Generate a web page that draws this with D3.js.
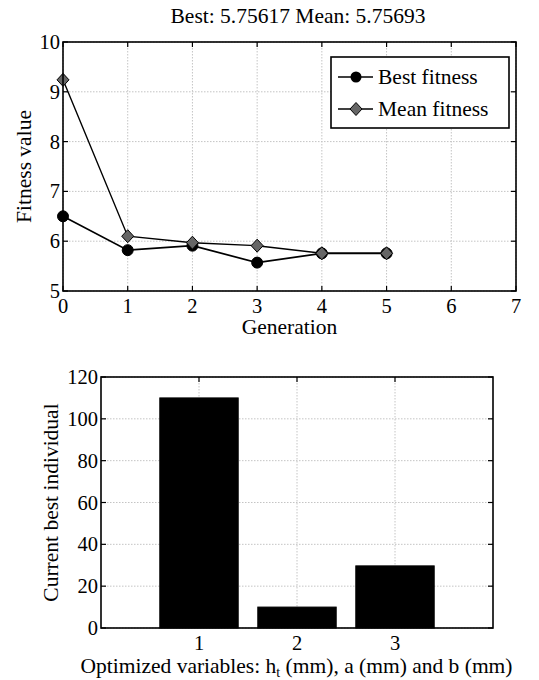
<!DOCTYPE html>
<html><head><meta charset="utf-8">
<script src="https://cdn.jsdelivr.net/npm/d3@7"></script>
<style>
html,body{margin:0;padding:0;background:#fff;}
text{font-family:"Liberation Serif","Times New Roman",serif;fill:#000;}
</style></head>
<body>
<svg id="c" width="539" height="680"></svg>
<script>
const generations = [0, 1, 2, 3, 4, 5];
const bestFitness = [6.50, 5.82, 5.91, 5.57, 5.756, 5.756];
const meanFitness = [9.24, 6.10, 5.97, 5.91, 5.757, 5.757];
const genTicks = [0, 1, 2, 3, 4, 5, 6, 7];
const fitTicks = [5, 6, 7, 8, 9, 10];
const titleText = "Best: 5.75617 Mean: 5.75693";

const variables = [1, 2, 3];
const bestIndividual = [110, 10, 29.7];
const indTicks = [0, 20, 40, 60, 80, 100, 120];

const svg = d3.select("#c");
const FS = 20.5;
const LFS = 21.5;

function frame(g, x, y, xt, yt, W, H) {
  g.selectAll(".gx").data(xt).enter().append("line")
    .attr("x1", d => x(d)).attr("x2", d => x(d)).attr("y1", 0).attr("y2", H)
    .attr("stroke", "#c4c4c4").attr("stroke-width", 1).attr("stroke-dasharray", "1.5,1.5");
  g.selectAll(".gy").data(yt).enter().append("line")
    .attr("y1", d => y(d)).attr("y2", d => y(d)).attr("x1", 0).attr("x2", W)
    .attr("stroke", "#c4c4c4").attr("stroke-width", 1).attr("stroke-dasharray", "1.5,1.5");
}
function border(g, x, y, xt, yt, W, H) {
  g.append("rect").attr("x", 0).attr("y", 0).attr("width", W).attr("height", H)
    .attr("fill", "none").attr("stroke", "#000").attr("stroke-width", 1.6);
  const tl = 5;
  xt.forEach(d => {
    g.append("line").attr("x1", x(d)).attr("x2", x(d)).attr("y1", H).attr("y2", H - tl).attr("stroke", "#000").attr("stroke-width", 1.2);
    g.append("line").attr("x1", x(d)).attr("x2", x(d)).attr("y1", 0).attr("y2", tl).attr("stroke", "#000").attr("stroke-width", 1.2);
  });
  yt.forEach(d => {
    g.append("line").attr("y1", y(d)).attr("y2", y(d)).attr("x1", 0).attr("x2", tl).attr("stroke", "#000").attr("stroke-width", 1.2);
    g.append("line").attr("y1", y(d)).attr("y2", y(d)).attr("x1", W).attr("x2", W - tl).attr("stroke", "#000").attr("stroke-width", 1.2);
  });
  g.selectAll(".xl").data(xt).enter().append("text")
    .attr("x", d => x(d)).attr("y", H + 22).attr("text-anchor", "middle")
    .attr("font-size", FS).text(d => d);
  g.selectAll(".yl").data(yt).enter().append("text")
    .attr("x", -3).attr("y", d => y(d) + 7).attr("text-anchor", "end")
    .attr("font-size", FS).text(d => d);
}
const diamond = "M0,-6.5L6,0L0,6.5L-6,0Z";

// ---- Top chart ----
{
  const L = 63, T = 42, R = 516, B = 291;
  const W = R - L, H = B - T;
  const g = svg.append("g").attr("transform", `translate(${L},${T})`);
  const x = d3.scaleLinear().domain([0, 7]).range([0, W]);
  const y = d3.scaleLinear().domain([5, 10]).range([H, 0]);
  g.append("rect").attr("width", W).attr("height", H).attr("fill", "#fff");
  frame(g, x, y, genTicks, fitTicks, W, H);

  const line = d3.line().x(d => x(d[0])).y(d => y(d[1]));
  const bestPts = generations.map((gen, i) => [gen, bestFitness[i]]);
  const meanPts = generations.map((gen, i) => [gen, meanFitness[i]]);
  g.append("path").attr("d", line(bestPts)).attr("fill", "none").attr("stroke", "#000").attr("stroke-width", 1.7);
  g.append("path").attr("d", line(meanPts)).attr("fill", "none").attr("stroke", "#000").attr("stroke-width", 1.4);
  g.selectAll(".bp").data(bestPts).enter().append("circle")
    .attr("cx", d => x(d[0])).attr("cy", d => y(d[1])).attr("r", 5.5)
    .attr("fill", "#000").attr("stroke", "#000");
  g.selectAll(".mp").data(meanPts).enter().append("path")
    .attr("d", diamond).attr("transform", d => `translate(${x(d[0])},${y(d[1])})`)
    .attr("fill", "#666").attr("stroke", "#000").attr("stroke-width", 1);

  border(g, x, y, genTicks, fitTicks, W, H);

  const lg = g.append("g").attr("transform", `translate(${331 - L},${57 - T})`);
  lg.append("rect").attr("width", 178).attr("height", 71).attr("fill", "#fff").attr("stroke", "#000").attr("stroke-width", 1.6);
  lg.append("line").attr("x1", 7).attr("x2", 42).attr("y1", 20).attr("y2", 20).attr("stroke", "#000").attr("stroke-width", 1.7);
  lg.append("circle").attr("cx", 25).attr("cy", 20).attr("r", 5.5).attr("fill", "#000");
  lg.append("text").attr("x", 47).attr("y", 27).attr("font-size", LFS).text("Best fitness");
  lg.append("line").attr("x1", 7).attr("x2", 42).attr("y1", 52).attr("y2", 52).attr("stroke", "#000").attr("stroke-width", 1.4);
  lg.append("path").attr("d", diamond).attr("transform", `translate(25,52)`)
    .attr("fill", "#666").attr("stroke", "#000").attr("stroke-width", 1);
  lg.append("text").attr("x", 47).attr("y", 59).attr("font-size", LFS).text("Mean fitness");

  svg.append("text").attr("x", 298).attr("y", 23).attr("text-anchor", "middle")
    .attr("font-size", LFS).text(titleText);
  svg.append("text").attr("x", (L + R) / 2).attr("y", 334).attr("text-anchor", "middle")
    .attr("font-size", LFS).text("Generation");
  svg.append("text").attr("transform", `translate(31,${(T + B) / 2}) rotate(-90)`)
    .attr("text-anchor", "middle").attr("font-size", LFS).text("Fitness value");
}

// ---- Bottom chart ----
{
  const L = 101, T = 377, R = 493, B = 628;
  const W = R - L, H = B - T;
  const g = svg.append("g").attr("transform", `translate(${L},${T})`);
  const x = d3.scaleLinear().domain([0, 4]).range([0, W]);
  const y = d3.scaleLinear().domain([0, 120]).range([H, 0]);
  g.append("rect").attr("width", W).attr("height", H).attr("fill", "#fff");
  frame(g, x, y, variables, indTicks, W, H);
  const bw = 0.8;
  g.selectAll(".bar").data(variables).enter().append("rect")
    .attr("x", d => x(d - bw / 2)).attr("width", x(bw) - x(0))
    .attr("y", (d, i) => y(bestIndividual[i])).attr("height", (d, i) => y(0) - y(bestIndividual[i]))
    .attr("fill", "#000").attr("stroke", "#000").attr("stroke-width", 1);
  border(g, x, y, variables, indTicks, W, H);

  svg.append("text").attr("transform", `translate(58,${(T + B) / 2}) rotate(-90)`)
    .attr("text-anchor", "middle").attr("font-size", LFS).text("Current best individual");
  const xl = svg.append("text").attr("x", 296.5).attr("y", 673).attr("text-anchor", "middle").attr("font-size", LFS);
  xl.append("tspan").text("Optimized variables: h");
  xl.append("tspan").attr("font-size", 14).attr("dy", 4).text("t");
  xl.append("tspan").attr("dy", -4).text(" (mm), a (mm) and b (mm)");
}
</script>
</body></html>
